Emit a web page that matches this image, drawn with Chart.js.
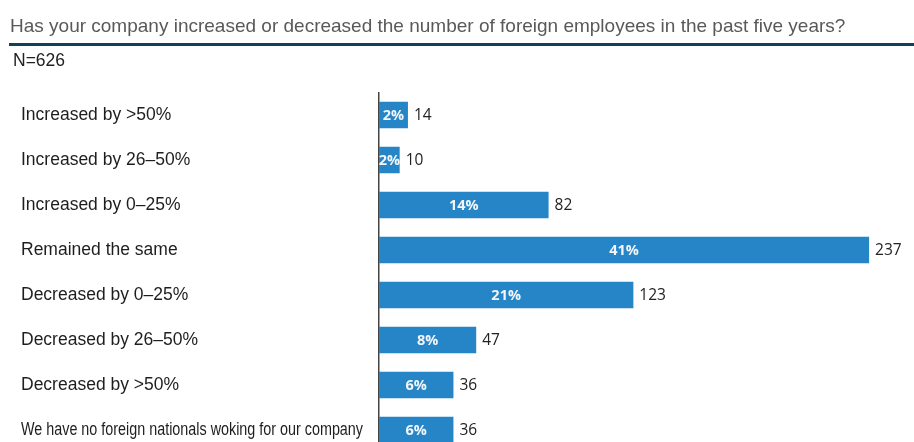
<!DOCTYPE html>
<html>
<head>
<meta charset="utf-8">
<script src="https://cdn.jsdelivr.net/npm/chart.js@4.4.1/dist/chart.umd.min.js"></script>
<style>
  html, body { margin: 0; padding: 0; background: #fff; overflow: hidden; }
  #wrap { position: relative; width: 914px; height: 460px; }
  #chart { position: absolute; left: 0; top: 0; }
  #title { position: absolute; left: 10px; top: 16px; font: 19px 'Liberation Sans', Arial, sans-serif; line-height: 19px; color: #595959; white-space: nowrap; }
  #rule { position: absolute; left: 9px; top: 43px; width: 905px; height: 3px; background: #0f4259; }
  #n { position: absolute; left: 13px; top: 52px; font: 17.5px 'Liberation Sans', Arial, sans-serif; line-height: 17.5px; color: #222; white-space: nowrap; }
</style>
</head>
<body>
<div id="wrap">
  <canvas id="chart" width="914" height="460"></canvas>
  <div id="title">Has your company increased or decreased the number of foreign employees in the past five years?</div>
  <div id="rule"></div>
  <div id="n">N=626</div>
</div>
<script>
const categories = [
  "Increased by >50%",
  "Increased by 26–50%",
  "Increased by 0–25%",
  "Remained the same",
  "Decreased by 0–25%",
  "Decreased by 26–50%",
  "Decreased by >50%",
  "We have no foreign nationals woking for our company"
];
const counts = [14, 10, 82, 237, 123, 47, 36, 36];
const percentLabels = ["2%", "2%", "14%", "41%", "21%", "8%", "6%", "6%"];

const labelPlugin = {
  id: 'labelPlugin',
  afterDatasetsDraw(chart) {
    const ctx = chart.ctx;
    const meta = chart.getDatasetMeta(0);
    const yScale = chart.scales.y;
    ctx.save();
    ctx.font = "17.5px 'Liberation Sans', Arial, sans-serif";
    ctx.fillStyle = '#1e1e1e';
    ctx.textAlign = 'left';
    ctx.textBaseline = 'middle';
    categories.forEach((c, i) => {
      const y = yScale.getPixelForValue(i);
      ctx.fillText(c, 21, y, 342);
    });
    meta.data.forEach((bar, i) => {
      const x0 = bar.base, x1 = bar.x, y = bar.y;
      ctx.font = "bold 14.5px 'Open Sans', 'Noto Sans', sans-serif";
      ctx.fillStyle = '#f2f6fa';
      ctx.textAlign = 'center';
      ctx.fillText(percentLabels[i], (x0 + x1) / 2, y + 1);
      ctx.font = "15.5px 'Open Sans', 'Noto Sans', sans-serif";
      ctx.fillStyle = '#222';
      ctx.textAlign = 'left';
      ctx.fillText(String(counts[i]), x1 + 6, y + 1);
    });
    ctx.restore();
  }
};

new Chart(document.getElementById('chart'), {
  type: 'bar',
  data: {
    labels: categories,
    datasets: [{
      data: counts,
      backgroundColor: '#2585c7',
      borderWidth: 0,
      barPercentage: 0.59,
      categoryPercentage: 1.0
    }]
  },
  options: {
    indexAxis: 'y',
    responsive: false,
    animation: false,
    layout: { padding: { left: 0, right: 18, top: 92.5, bottom: 7.5 } },
    plugins: { legend: { display: false }, tooltip: { enabled: false }, title: { display: false } },
    scales: {
      x: { display: false, min: 0, max: 250 },
      y: {
        display: true,
        grid: { display: false, drawTicks: false },
        ticks: { display: false },
        border: { display: true, color: '#444', width: 1.5 },
        afterFit(scale) { scale.width = 379; }
      }
    }
  },
  plugins: [labelPlugin]
});
</script>
</body>
</html>
